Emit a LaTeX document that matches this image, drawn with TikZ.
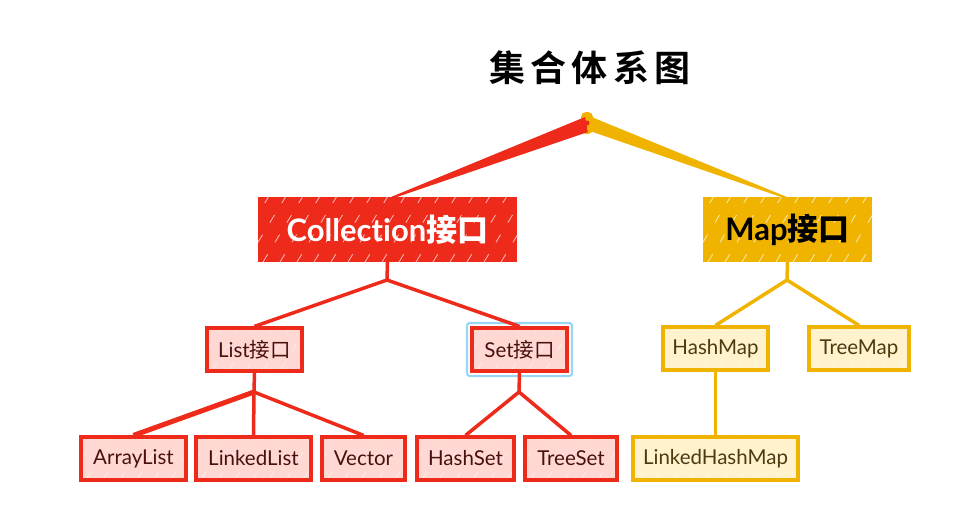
\documentclass[tikz,border=0pt]{standalone}
\usepackage{fontspec}
\setmainfont[Ligatures=NoCommon]{Lato}
\newfontfamily\cjk{Noto Sans CJK SC}
\newfontfamily\cjkbold{Noto Sans CJK SC Bold}
\newfontfamily\cjktitle[LetterSpace=14]{Noto Sans CJK SC Bold}
\usetikzlibrary{calc}
\definecolor{redc}{HTML}{EE2A1B}
\definecolor{pinkf}{HTML}{FFD8D4}
\definecolor{yelc}{HTML}{F0B400}
\definecolor{yelf}{HTML}{FFF2CC}
\definecolor{maroon}{HTML}{4A1010}
\definecolor{olive}{HTML}{4D3B10}
\definecolor{blueh}{HTML}{9AD6F4}
\tikzset{
  hatch/.style={path picture={\foreach \k in {0,...,30}{\draw[white,opacity=#1,line width=0.8pt,dash pattern=on 9pt off 14pt] ($(path picture bounding box.south west)+(\k*17pt-80pt,0pt)$) -- ++(40pt,66pt);}}},
  smallbox/.style={draw, line width=3.2pt, minimum height=43pt, inner sep=0pt, font=\fontsize{20.5}{22}\selectfont, hatch=0.5},
  redbox/.style={smallbox, draw=redc, fill=pinkf, text=maroon},
  yelbox/.style={smallbox, draw=yelc, fill=yelf, text=olive},
  bigbox/.style={minimum height=65pt, inner sep=0pt, font=\bfseries\fontsize{31}{33}\selectfont, hatch=0.7},
  redline/.style={draw=redc, line width=3.5pt},
  yelline/.style={draw=yelc, line width=3.5pt},
}
\begin{document}
\begin{tikzpicture}[x=1pt,y=-1pt]
\useasboundingbox (0,0) rectangle (980,506);
% title
\node[font=\cjktitle\fontsize{36}{40}\selectfont] (title) at (590,68) {集合体系图};
% level 1
\node[bigbox, fill=redc, text=white, minimum width=259pt] (coll) at (387.5,229.5) {Collection{\cjkbold 接口}};
\node[bigbox, fill=yelc, text=black, minimum width=169pt] (map) at (787.5,229.5) {Map{\cjkbold 接口}};
% root
\node[fill=yelc, minimum width=12pt, minimum height=22pt, inner sep=0pt, rounded corners=5pt] (root) at (587,123) {};
\fill[redc] ($(root)+(-2pt,6pt)$) -- ($(root)+(1pt,-9pt)$) -- ($(coll.north)+(10pt,0pt)$) -- ($(coll.north)+(4pt,0pt)$) -- cycle;
\fill[yelc] ($(root)+(0pt,-7pt)$) -- ($(root)+(2pt,7pt)$) -- ($(map.north)+(-1pt,0pt)$) -- ($(map.north)+(-7pt,0pt)$) -- cycle;
\fill[redc] (root) circle (2.5pt);
% level 2
\node[redbox, minimum width=95pt] (list) at (254.5,349.5) {List{\cjk 接口}};
\node[redbox, minimum width=95pt] (set) at (519.5,349.5) {Set{\cjk 接口}};
\draw[blueh, line width=2.2pt, rounded corners=3pt] ($(set.south west)+(-3.5pt,-3.5pt)$) rectangle ($(set.north east)+(3.5pt,3.5pt)$);
\node[yelbox, minimum width=105pt] (hashmap) at (715.5,348.5) {HashMap};
\node[yelbox, minimum width=100pt] (treemap) at (859,348.5) {TreeMap};
% level 3
\node[redbox, minimum width=105pt] (arraylist) at (133.5,458.5) {ArrayList};
\node[redbox, minimum width=115pt] (linkedlist) at (253.5,458.5) {LinkedList};
\node[redbox, minimum width=83pt] (vector) at (363.5,458.5) {Vector};
\node[redbox, minimum width=97pt] (hashset) at (465.5,458.5) {HashSet};
\node[redbox, minimum width=92pt] (treeset) at (571,458.5) {TreeSet};
\node[yelbox, minimum width=165pt] (lhm) at (715.5,458.5) {LinkedHashMap};
% junctions
\coordinate (cj) at (387,280);
\coordinate (mj) at (787,280);
\coordinate (lj) at (254,392);
\coordinate (sj) at (519,392);
% connectors
\draw[redline] (coll.south) -- (cj);
\draw[redline] (cj) -- (list.north);
\draw[redline] (cj) -- (set.north);
\draw[yelline] (map.south) -- (mj);
\draw[yelline] (mj) -- (hashmap.north);
\draw[yelline] (mj) -- (treemap.north);
\draw[redline] (list.south) -- (lj);
\draw[redline, line width=5pt] (lj) -- (arraylist.north);
\draw[redline] (lj) -- (linkedlist.north);
\draw[redline] (lj) -- (vector.north);
\draw[redline] (set.south) -- (sj);
\draw[redline] (sj) -- (hashset.north);
\draw[redline] (sj) -- (treeset.north);
\draw[yelline] (hashmap.south) -- (lhm.north);
\end{tikzpicture}
\end{document}
